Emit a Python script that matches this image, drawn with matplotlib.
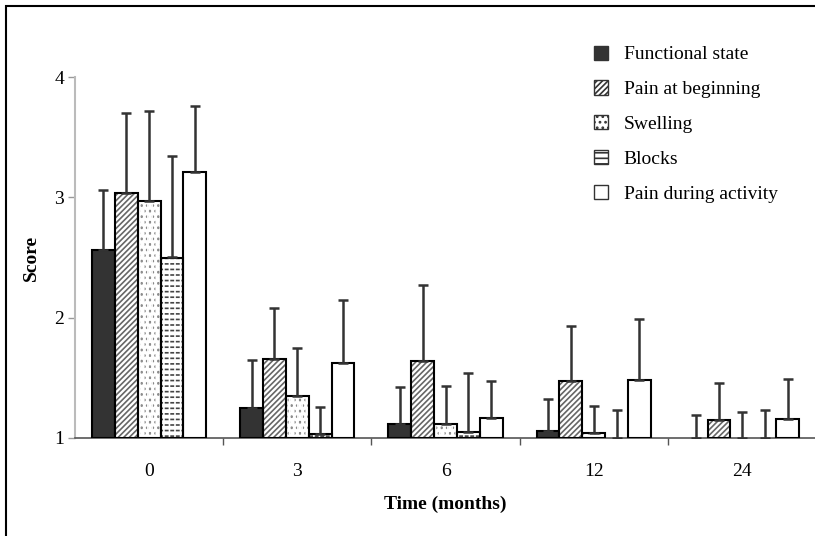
import matplotlib
matplotlib.use("Agg")
import matplotlib.pyplot as plt
from matplotlib.patches import Rectangle, Patch
import numpy as np

plt.rcParams['font.family'] = ['Liberation Serif', 'DejaVu Serif']
plt.rcParams['hatch.linewidth'] = 1.2

groups = ["0", "3", "6", "12", "24"]
series = ["Functional state", "Pain at beginning", "Swelling", "Blocks", "Pain during activity"]

# mean score per series (rows) for each time point (columns)
means = [
    [2.56, 1.25, 1.12, 1.06, 1.00],
    [3.04, 1.66, 1.64, 1.47, 1.15],
    [2.97, 1.35, 1.12, 1.04, 1.00],
    [2.50, 1.03, 1.05, 1.00, 1.00],
    [3.21, 1.62, 1.17, 1.48, 1.16],
]
# top of error bar
err_top = [
    [3.06, 1.65, 1.42, 1.32, 1.19],
    [3.70, 2.08, 2.27, 1.93, 1.46],
    [3.72, 1.75, 1.43, 1.27, 1.22],
    [3.34, 1.26, 1.54, 1.23, 1.23],
    [3.76, 2.15, 1.47, 1.99, 1.49],
]

faces = ['#333333', 'white', 'white', 'white', 'white']
hatches = [None, '//////', '...', '---', None]
hatch_cols = ['#333333', '#666666', '#888888', '#444444', '#333333']
breaks = [None, None, '||||', '|||', None]   # white lines that cut the hatch

fig = plt.figure(figsize=(8.15, 5.36), dpi=100)
ax = fig.add_axes([75/815, 1-438/536, 741/815, (438-77)/536])

x = np.arange(len(groups))
w = 0.154
for i, name in enumerate(series):
    pos = x + (i - 2) * w
    h = np.array(means[i]) - 1
    keep = h > 0
    ax.bar(pos[keep], h[keep], w, bottom=1, color=faces[i], hatch=hatches[i],
           edgecolor=hatch_cols[i], linewidth=0, zorder=2)
    if breaks[i]:
        ax.bar(pos[keep], h[keep], w, bottom=1, fill=False, hatch=breaks[i],
               edgecolor='white', linewidth=0, zorder=2.5)
    ax.bar(pos[keep], h[keep], w, bottom=1, fill=False, edgecolor='black',
           linewidth=1.5, zorder=3)
    up = np.array(err_top[i]) - np.array(means[i])
    ax.errorbar(pos, means[i], yerr=[np.zeros(len(groups)), up], fmt='none',
                ecolor='#333333', elinewidth=1.8, capsize=3.5, capthick=1.8, zorder=4)

ax.set_xlim(-0.5, 4.5)
ax.set_ylim(1, 4)
ax.set_yticks([1, 2, 3, 4])
ax.set_xticks(x)
ax.set_xticklabels(groups)
ax.set_xticks(np.arange(0.5, 4.5, 1), minor=True)
ax.tick_params(axis='x', which='major', length=0, pad=18, labelsize=14)
ax.tick_params(axis='x', which='minor', length=5, width=1, color='#555555', direction='out')
ax.tick_params(axis='y', length=5, width=1, color='#999999', pad=3, labelsize=14)
for s in ['top', 'right']:
    ax.spines[s].set_visible(False)
ax.spines['left'].set_color('#bbbbbb')
ax.spines['left'].set_linewidth(1.5)
ax.spines['bottom'].set_color('#555555')
ax.spines['bottom'].set_linewidth(1.2)

ax.set_xlabel("Time (months)", fontsize=14, fontweight='bold', labelpad=11)
ax.set_ylabel("Score", fontsize=14, fontweight='bold', labelpad=10)

handles = [Patch(facecolor=faces[i], hatch=hatches[i], edgecolor='#333333', linewidth=1)
           for i in range(len(series))]
leg = ax.legend(handles, series, loc='upper left', bbox_to_anchor=(576/815, 1-28/536),
                bbox_transform=fig.transFigure, frameon=False, fontsize=14,
                handlelength=0.75, handleheight=0.75, handletextpad=0.8, labelspacing=0.87)

fig.patches.append(Rectangle((6/815, -0.1), 1.2, 1 - 6/536 + 0.1, transform=fig.transFigure,
                             fill=False, edgecolor='black', linewidth=1.5))

fig.savefig("out.png", dpi=100)
